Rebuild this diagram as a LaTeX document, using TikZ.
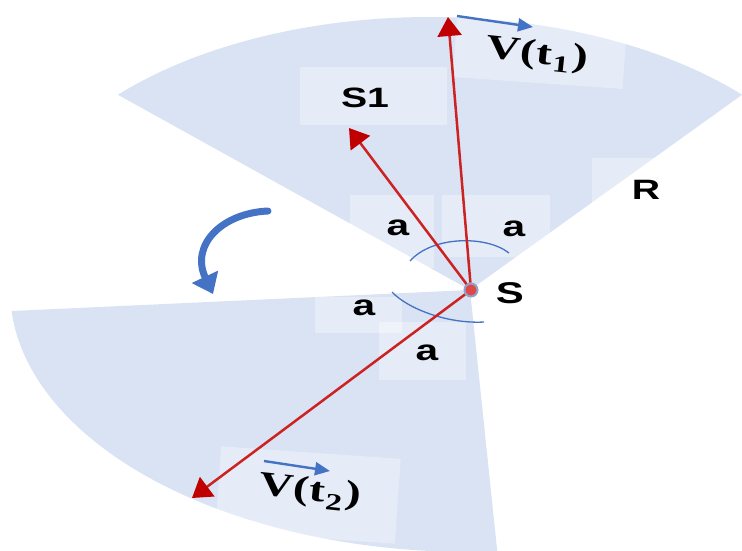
\documentclass[tikz,border=0pt]{standalone}
\usepackage{fontspec}
\usepackage{graphicx}
\setmainfont{Liberation Sans}
\newfontfamily\tnr{Liberation Serif}
\usetikzlibrary{arrows.meta}
\definecolor{sect}{HTML}{DAE3F3}
\definecolor{arrred}{HTML}{C00000}
\definecolor{linered}{HTML}{CC2222}
\definecolor{arrblue}{HTML}{4472C4}
\definecolor{dotred}{HTML}{E04848}
\definecolor{dotring}{HTML}{8FA3C8}
\newcommand{\wtext}[1]{\scalebox{1.4}[1]{#1}}
\begin{document}
\begin{tikzpicture}[x=1pt,y=-1pt,
  lightbox/.style={fill=white, fill opacity=0.35, draw=none, inner sep=0pt},
  lbl/.style={font=\bfseries, inner sep=0pt},
  redarrow/.style={draw=linered, line width=2.5pt, -{Triangle[length=19pt,width=24pt,color=arrred]}},
  bluevec/.style={draw=arrblue, line width=2.4pt, -{Triangle[length=15pt,width=13pt,color=arrblue]}},
  anglearc/.style={draw=arrblue, line width=1.3pt},
]
\useasboundingbox (0,0) rectangle (742,550);
% sectors
\fill[sect] (470,290) -- plot[domain=42:138, samples=90] ({430+420*cos(\x)},{252-235*sin(\x)}) -- cycle;
\fill[sect] (470,290) -- plot[domain=86.6:175.4, samples=90] ({470+460*cos(\x)},{290+262*sin(\x)}) -- cycle;
% light label boxes
\node[lightbox, minimum width=147pt, minimum height=58pt] (bS1) at (373,96) {};
\node[lightbox, rotate=-4, minimum width=170pt, minimum height=66pt] (bV1) at (540,50) {};
\node[lightbox, minimum width=84pt, minimum height=73pt] (ba1) at (392,231) {};
\node[lightbox, minimum width=108pt, minimum height=62pt] (ba2) at (496,226) {};
\node[lightbox, minimum width=87pt, minimum height=36pt] (ba3) at (358,315) {};
\node[lightbox, minimum width=87pt, minimum height=58pt] (ba4) at (422,351) {};
\node[lightbox, minimum width=98pt, minimum height=67pt] (bR) at (641,191) {};
\node[lightbox, rotate=-4, minimum width=180pt, minimum height=85pt] (bV2) at (308,495) {};
% angle arcs
\draw[anglearc] (410,261) .. controls (432,236) and (486,235) .. (509,253);
\draw[anglearc] (392,292) .. controls (408,309) and (448,324) .. (484,322);
% point S
\node[circle, fill=dotred, draw=dotring, line width=2pt, minimum size=13pt, inner sep=0pt] (S) at (471,290) {};
% red vectors
\coordinate (tipV1) at (448,17);
\coordinate (tipS1) at (349,128);
\coordinate (tipV2) at (192,498);
\draw[redarrow] (S) -- (tipV1);
\draw[redarrow] (S) -- (tipS1);
\draw[redarrow] (S) -- (tipV2);
% labels
\node[lbl] (lS1) at (365,98) {\fontsize{28}{30}\selectfont\wtext{S1}};
\node[lbl] (la1) at (398,228) {\fontsize{29}{31}\selectfont\wtext{a}};
\node[lbl] (la2) at (514,229) {\fontsize{29}{31}\selectfont\wtext{a}};
\node[lbl] (la3) at (364,308) {\fontsize{29}{31}\selectfont\wtext{a}};
\node[lbl] (la4) at (427,353) {\fontsize{29}{31}\selectfont\wtext{a}};
\node[lbl] (lR) at (646,190) {\fontsize{28}{30}\selectfont\wtext{R}};
\node[lbl] (lS) at (510,293) {\fontsize{30}{32}\selectfont\wtext{S}};
\node[lbl, rotate=-6] (lV1) at (537,55) {\fontsize{34}{36}\selectfont\tnr\wtext{V(t\kern1pt\textsubscript{1}\kern1pt)}};
\node[lbl, rotate=-6] (lV2) at (310,492) {\fontsize{34}{36}\selectfont\tnr\wtext{V(t\kern1pt\textsubscript{2}\kern1pt)}};
% blue velocity arrows
\coordinate (v1s) at (457,16);
\coordinate (v1e) at (533,27);
\coordinate (v2s) at (264,461);
\coordinate (v2e) at (330,471);
\draw[bluevec] (v1s) -- (v1e);
\draw[bluevec] (v2s) -- (v2e);
% rotation arrow
\coordinate (rotA) at (268,211);
\coordinate (rotB) at (213,294);
\draw[arrblue, line width=7pt, line cap=round, -{Triangle[length=19pt,width=28pt]}] (rotA) .. controls (222,213) and (190,245) .. (rotB);
\end{tikzpicture}
\end{document}
